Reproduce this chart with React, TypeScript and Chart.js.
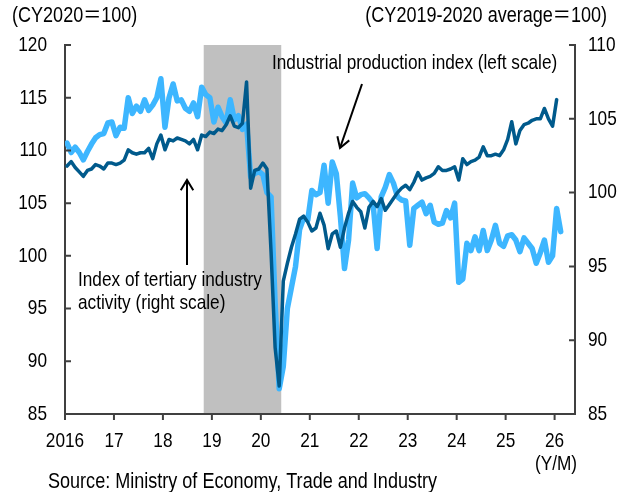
import React, { useEffect, useRef } from "react";
import { Chart, registerables } from "chart.js";

Chart.register(...registerables);

// ---- Data (monthly, Jan 2016 onward) ----
const startYear = 2016;
// Industrial production index (CY2020=100), left scale, Jan 2016 - Feb 2026
const industrialProduction = [
  110.7, 109.8, 110.3, 109.8, 109.1, 109.9, 110.6, 111.2, 111.5, 111.6, 112.6, 112.7,
  111.4, 112.2, 112.1, 115.0, 113.5, 114.2, 113.7, 114.8, 113.8, 114.3, 115.0, 116.8,
  112.2, 115.0, 116.3, 114.7, 114.8, 114.0, 113.7, 114.5, 113.2, 116.0, 115.3, 115.0,
  112.7, 114.1, 113.2, 112.6, 114.8, 112.9, 113.3, 112.0, 112.5, 107.5, 107.8, 108.0,
  107.7, 106.0, 105.6, 95.5, 87.4, 89.5, 95.0, 97.0, 99.0, 102.5, 103.6, 103.4,
  106.2, 105.8, 106.0, 108.6, 105.0, 108.9, 107.8, 103.7, 98.8, 101.5, 106.9, 105.5,
  105.8, 105.9, 105.5, 105.0, 100.7, 105.6, 106.5, 107.7, 106.9, 105.6, 105.3, 105.2,
  101.0, 104.5, 104.8, 105.1, 104.0, 104.8, 103.2, 103.0, 103.1, 104.3, 103.6, 105.0,
  97.5, 97.8, 101.2, 100.5, 101.8, 100.5, 102.4, 100.5, 101.5, 102.9, 101.2, 100.9,
  101.9, 102.0, 101.5, 100.4, 101.7, 101.2, 100.7, 99.3, 100.3, 101.5, 99.4, 100.0,
  104.5, 102.3,
];
// Index of tertiary industry activity (CY2019-2020 average=100), right scale, Jan 2016 - Jan 2026
const tertiaryActivity = [
  101.8, 102.1, 101.7, 101.4, 101.1, 101.5, 101.6, 101.9, 101.8, 101.6, 102.0, 102.0,
  101.9, 102.0, 102.2, 102.9, 102.7, 102.6, 102.7, 102.7, 103.0, 102.3, 103.3, 103.9,
  102.9, 103.6, 103.5, 103.7, 103.6, 103.5, 103.3, 103.6, 102.9, 103.9, 103.8, 104.1,
  104.0, 104.3, 104.2, 104.6, 105.2, 104.5, 104.4, 104.7, 107.5, 100.3, 101.5, 101.6,
  102.0, 101.6, 96.0, 89.5, 86.9, 94.0, 95.2, 96.3, 97.2, 98.2, 98.4, 98.0,
  97.4, 97.6, 98.6, 97.8, 96.2, 97.2, 97.4, 96.3, 97.6, 98.6, 99.4, 99.0,
  98.7, 97.6, 99.0, 99.4, 99.05, 99.6, 98.8, 99.2, 99.6, 100.0, 100.3, 100.5,
  100.2, 100.7, 101.35, 100.85, 101.0, 101.1, 101.3, 101.75, 101.5, 101.5, 101.6, 101.75,
  100.85, 102.3, 101.9, 102.1, 102.2, 102.4, 103.1, 102.5, 102.5, 102.6, 102.5, 102.9,
  103.6, 104.8, 103.3, 104.2, 104.6, 104.7, 104.9, 105.0, 105.0, 105.7, 105.0, 104.5,
  106.3,
];
const xTickLabels = ["2016", "17", "18", "19", "20", "21", "22", "23", "24", "25", "26"];
const leftTicks = [85, 90, 95, 100, 105, 110, 115, 120];
const rightTicks = [85, 90, 95, 100, 105, 110];
// Recession shading: Nov 2018 (month 34) through May 2020 (end of month 52)
const recessionStart = 34;
const recessionEnd = 53;

const LIGHT = "#3DB6FF";
const DARK = "#005A8C";
const AXIS = "#404040";

type FontPick = { family: string; sx: number };
function pickFont(): FontPick {
  try {
    const c = document.createElement("canvas").getContext("2d")!;
    const t = "Industrial production 0123456789";
    c.font = "20px monospace";
    const w0 = c.measureText(t).width;
    c.font = '20px "Liberation Sans Narrow", monospace';
    const w1 = c.measureText(t).width;
    if (Math.abs(w1 - w0) > 1)
      return { family: '"Liberation Sans Narrow", "Noto Sans CJK JP", sans-serif', sx: 1 };
  } catch (e) {}
  return { family: '"Liberation Sans", Arial, "Noto Sans CJK JP", sans-serif', sx: 0.82 };
}

function drawText(
  ctx: CanvasRenderingContext2D,
  f: FontPick,
  s: string,
  x: number,
  y: number,
  size: number,
  align: CanvasTextAlign
) {
  ctx.save();
  ctx.font = `${size}px ${f.family}`;
  ctx.fillStyle = "#000";
  ctx.textBaseline = "middle";
  ctx.textAlign = align;
  ctx.translate(x, y);
  ctx.scale(f.sx, 1);
  ctx.fillText(s, 0, 0);
  ctx.restore();
}

function arrow(ctx: CanvasRenderingContext2D, x1: number, y1: number, x2: number, y2: number) {
  const ang = Math.atan2(y2 - y1, x2 - x1);
  const hl = 12;
  const ha = 0.55;
  ctx.save();
  ctx.strokeStyle = "#000";
  ctx.lineWidth = 2;
  ctx.lineCap = "butt";
  ctx.beginPath();
  ctx.moveTo(x1, y1);
  ctx.lineTo(x2, y2);
  ctx.stroke();
  ctx.beginPath();
  ctx.moveTo(x2 - hl * Math.cos(ang - ha), y2 - hl * Math.sin(ang - ha));
  ctx.lineTo(x2, y2);
  ctx.lineTo(x2 - hl * Math.cos(ang + ha), y2 - hl * Math.sin(ang + ha));
  ctx.stroke();
  ctx.restore();
}

export default function App() {
  const ref = useRef<HTMLCanvasElement | null>(null);

  useEffect(() => {
    const canvas = ref.current;
    if (!canvas) return;
    const font = pickFont();

    const decor = {
      id: "decor",
      beforeDraw(chart: any) {
        const { ctx, chartArea, scales } = chart;
        const x0 = scales.x.getPixelForValue(recessionStart);
        const x1 = scales.x.getPixelForValue(recessionEnd);
        ctx.save();
        ctx.fillStyle = "#C0C0C0";
        ctx.fillRect(x0, chartArea.top, x1 - x0, chartArea.bottom - chartArea.top);
        ctx.restore();
      },
      afterDraw(chart: any) {
        const { ctx, chartArea, scales } = chart;
        const L = chartArea.left,
          R = chartArea.right,
          B = chartArea.bottom;
        ctx.save();
        ctx.strokeStyle = AXIS;
        ctx.lineWidth = 2;
        ctx.beginPath();
        leftTicks.forEach((v) => {
          const p = scales.y.getPixelForValue(v);
          ctx.moveTo(L, p);
          ctx.lineTo(L + 6, p);
        });
        rightTicks.forEach((v) => {
          const p = scales.y1.getPixelForValue(v);
          ctx.moveTo(R - 6, p);
          ctx.lineTo(R, p);
        });
        xTickLabels.forEach((_, i) => {
          const p = scales.x.getPixelForValue(i * 12);
          ctx.moveTo(p, B);
          ctx.lineTo(p, B + 6);
        });
        ctx.stroke();
        ctx.restore();

        const fs = 21;
        leftTicks.forEach((v) => drawText(ctx, font, String(v), 47, scales.y.getPixelForValue(v), fs, "right"));
        rightTicks.forEach((v) => drawText(ctx, font, String(v), 588, scales.y1.getPixelForValue(v), fs, "left"));
        xTickLabels.forEach((s, i) => drawText(ctx, font, s, scales.x.getPixelForValue(i * 12), 441, fs, "center"));
        drawText(ctx, font, "(Y/M)", 556, 464, fs, "center");
        drawText(ctx, font, "(CY2020\uFF1D100)", 12, 16, 22, "left");
        drawText(ctx, font, "(CY2019-2020 average\uFF1D100)", 607, 16, 22, "right");
        drawText(ctx, font, "Industrial production index (left scale)", 272, 63, fs, "left");
        drawText(ctx, font, "Index of tertiary industry", 78, 280, fs, "left");
        drawText(ctx, font, "activity (right scale)", 78, 303, fs, "left");
        drawText(ctx, font, "Source: Ministry of Economy, Trade and Industry", 48, 482, 22, "left");

        arrow(ctx, 187, 265, 187, 180);
        arrow(ctx, 362, 84, 340, 148);
      },
    };

    const chart = new Chart(canvas, {
      type: "line",
      data: {
        datasets: [
          {
            label: "Index of tertiary industry activity (right scale)",
            data: tertiaryActivity.map((v, i) => ({ x: i + 0.5, y: v })),
            yAxisID: "y1",
            borderColor: DARK,
            borderWidth: 3.5,
            pointRadius: 0,
            tension: 0,
            borderJoinStyle: "round",
            borderCapStyle: "round",
          },
          {
            label: "Industrial production index (left scale)",
            data: industrialProduction.map((v, i) => ({ x: i + 0.5, y: v })),
            yAxisID: "y",
            borderColor: LIGHT,
            borderWidth: 5.5,
            pointRadius: 0,
            tension: 0,
            borderJoinStyle: "round",
            borderCapStyle: "round",
          },
        ],
      },
      options: {
        responsive: false,
        animation: false,
        devicePixelRatio: 1,
        layout: { padding: { top: 45, left: 0, right: 0, bottom: 0 } },
        plugins: { legend: { display: false }, tooltip: { enabled: false } },
        scales: {
          x: {
            type: "linear",
            position: "bottom",
            min: 0,
            max: 125,
            ticks: { display: false },
            grid: { display: false },
            border: { display: true, color: AXIS, width: 2 },
            afterFit: (s: any) => {
              s.height = 78;
            },
          },
          y: {
            type: "linear",
            position: "left",
            min: 85,
            max: 120,
            ticks: { display: false },
            grid: { display: false },
            border: { display: true, color: AXIS, width: 2 },
            afterFit: (s: any) => {
              s.width = 65;
            },
          },
          y1: {
            type: "linear",
            position: "right",
            min: 85,
            max: 110,
            ticks: { display: false },
            grid: { display: false },
            border: { display: true, color: AXIS, width: 2 },
            afterFit: (s: any) => {
              s.width = 48;
            },
          },
        },
      } as any,
      plugins: [decor],
    });
    return () => chart.destroy();
  }, []);

  return (
    <div style={{ position: "fixed", left: 0, top: 0, width: 623, height: 492, background: "#fff" }}>
      <canvas ref={ref} width={623} height={492} style={{ width: 623, height: 492, display: "block" }} />
    </div>
  );
}
